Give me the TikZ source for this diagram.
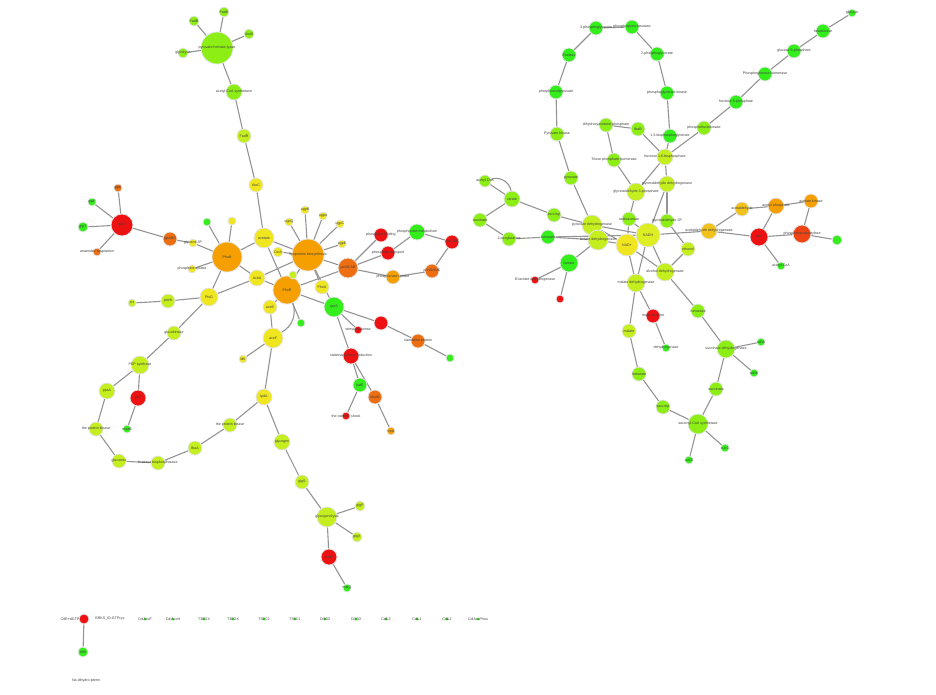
\documentclass[tikz,border=0pt]{standalone}
\usepackage{fontspec}
\setmainfont{Liberation Sans}
\pgfdeclarelayer{background}
\pgfdeclarelayer{paper}
\pgfsetlayers{paper,background,main}
\definecolor{gr}{HTML}{33EE1A}
\definecolor{lg}{HTML}{8CEE14}
\definecolor{yg}{HTML}{C4EE1E}
\definecolor{yh}{HTML}{DDEE22}
\definecolor{yl}{HTML}{F0E620}
\definecolor{ye}{HTML}{F2C21C}
\definecolor{orr}{HTML}{F5A000}
\definecolor{dor}{HTML}{EE6E12}
\definecolor{ror}{HTML}{EE4414}
\definecolor{rd}{HTML}{EE1111}
\tikzset{
  nd/.style 2 args={circle, fill=#2, draw=black!10, line width=0.8pt, minimum size=2*#1, inner sep=0pt},
  lbl/.style={font=\fontsize{3.6}{4}\selectfont, text=black!75, inner sep=0pt},
  ed/.style={draw=black!42, line width=1.1pt},
}
\newcommand\Nd[6]{\node[nd={#4pt}{#5}, label={[lbl]center:#6}] (#1) at (#2,#3) {};}
\begin{document}
\begin{tikzpicture}[x=1pt,y=-1pt]
\useasboundingbox (0,0) rectangle (936,694);
\begin{pgfonlayer}{paper}
\fill[white] (0,0) rectangle (936,694);
\end{pgfonlayer}
% ---------- left network ----------
\Nd{a1}{217}{48}{16}{lg}{pyruvate formate-lyase}
\Nd{a2}{194}{21}{5}{lg}{FadB}
\Nd{a3}{224}{12}{5}{lg}{FadE}
\Nd{a4}{249}{34}{5}{lg}{AtoB}
\Nd{a5}{183}{53}{5}{lg}{glycolysis}
\Nd{a6}{234}{92}{8}{lg}{acetyl-CoA synthetase}
\Nd{a7}{244}{136}{7}{yg}{FadR}
\Nd{a8}{256}{185}{7}{yl}{AtoC}
\Nd{a9}{264}{238}{10}{yl}{acetate}
\Nd{o1}{308}{255}{16}{orr}{lipoprotein biosynthesis}
\Nd{o2}{227}{257}{15}{orr}{PhoB}
\Nd{o3}{287}{290}{14}{orr}{PhoR}
\Nd{y1}{257}{278}{8}{yl}{AckA}
\Nd{y2}{209}{297}{9}{yl}{PtsG}
\Nd{y3}{270}{307}{7}{yl}{aceE}
\Nd{y4}{273}{338}{10}{yl}{aceF}
\Nd{y5}{278}{252}{5}{yl}{CstA}
\Nd{y6}{322}{287}{7}{yl}{PhoU}
\Nd{s1}{305}{210}{4}{yl}{ugpB}
\Nd{s2}{323}{216}{4}{yl}{ugpA}
\Nd{s3}{340}{224}{4}{yl}{ugpC}
\Nd{s4}{342}{244}{4}{yl}{ugpE}
\Nd{s5}{289}{222}{4}{yl}{ugpQ}
\Nd{s6}{293}{275}{4}{yg}{}
\Nd{s7}{301}{323}{4}{gr}{}
\Nd{g1}{334}{307}{10}{gr}{rpoS}
\Nd{o4}{348}{268}{10}{dor}{pstSCAB}
\Nd{l1}{207}{222}{4}{gr}{}
\Nd{l2}{232}{221}{4}{yl}{}
\Nd{l3}{193}{243}{4}{yl}{glycerol-3P}
\Nd{l4}{192}{269}{4}{yl}{phosphate uptake}
\Nd{o5}{170}{239}{7}{dor}{glpABC}
\Nd{r1}{122}{225}{11}{rd}{glpD}
\Nd{l5}{118}{188}{4}{dor}{glpK}
\Nd{l6}{92}{202}{4}{gr}{glpF}
\Nd{l7}{83}{227}{5}{gr}{glpT}
\Nd{l8}{97}{252}{4}{dor}{anaerobic respiration}
\Nd{r2}{381}{235}{7}{rd}{phosphate binding}
\Nd{g2}{417}{232}{8}{gr}{phosphonate metabolism}
\Nd{r3}{452}{242}{7}{rd}{phnCDE}
\Nd{r4}{388}{253}{7}{rd}{phosphate transport}
\Nd{o6}{393}{277}{7}{orr}{phosphonate uptake}
\Nd{o7}{432}{271}{7}{dor}{phnGHIJK}
\Nd{r5}{381}{323}{7}{rd}{}
\Nd{r6}{358}{330}{4}{rd}{stress response}
\Nd{r7}{351}{356}{8}{rd}{stationary phase induction}
\Nd{o8}{418}{341}{7}{dor}{starvation protein}
\Nd{l9}{450}{358}{4}{gr}{}
\Nd{g3}{360}{385}{7}{gr}{katE}
\Nd{o9}{375}{397}{7}{dor}{otsAB}
\Nd{l10}{346}{416}{4}{rd}{the osmotic shock}
\Nd{l11}{391}{431}{4}{orr}{treA}
\Nd{l12}{243}{359}{4}{yl}{ldh}
\Nd{y7}{264}{397}{8}{yl}{lpdA}
\Nd{b1}{230}{425}{7}{yg}{the protein kinase}
\Nd{b2}{282}{442}{8}{yg}{glycogen}
\Nd{b3}{302}{482}{7}{yg}{glgS}
\Nd{b4}{327}{517}{10}{yg}{glycogenolysis}
\Nd{b5}{360}{506}{5}{yg}{glgP}
\Nd{b6}{357}{537}{5}{yg}{glgX}
\Nd{b7}{329}{557}{8}{rd}{malP}
\Nd{b8}{347}{588}{4}{gr}{malQ}
\Nd{c1}{168}{301}{7}{yg}{ptsHI}
\Nd{c2}{132}{303}{4}{yg}{crr}
\Nd{c3}{174}{333}{7}{yg}{glucokinase}
\Nd{c4}{140}{365}{9}{yg}{PEP synthase}
\Nd{c5}{107}{391}{8}{yg}{ppsA}
\Nd{c6}{138}{398}{8}{rd}{pck}
\Nd{c7}{127}{429}{4}{gr}{maeB}
\Nd{c8}{96}{429}{7}{yg}{the protein kinase}
\Nd{c9}{119}{461}{7}{yg}{gluconeo}
\Nd{c10}{158}{463}{7}{yg}{fructose bisphosphatase}
\Nd{c11}{195}{448}{7}{yg}{fbaA}
% ---------- right network ----------
\Nd{p1}{596}{28}{7}{gr}{3-phosphoglycerate}
\Nd{p2}{632}{27}{7}{gr}{phosphoglyceromutase}
\Nd{p3}{569}{55}{7}{gr}{Enolase}
\Nd{p4}{657}{54}{7}{gr}{2-phosphoglycerate}
\Nd{p5}{556}{92}{7}{gr}{phosphoenolpyruvate}
\Nd{p6}{667}{93}{7}{gr}{phosphoglycerate kinase}
\Nd{p7}{557}{134}{7}{lg}{Pyruvate kinase}
\Nd{p8}{670}{136}{7}{gr}{1,3-bisphosphoglycerate}
\Nd{p9}{606}{125}{7}{lg}{dihydroxyacetone phosphate}
\Nd{p10}{638}{129}{7}{lg}{fbaB}
\Nd{p11}{614}{160}{7}{lg}{Triose phosphate isomerase}
\Nd{p12}{665}{157}{8}{yg}{fructose 1,6-bisphosphate}
\Nd{p13}{571}{178}{7}{lg}{pyruvate}
\Nd{p14}{636}{192}{9}{yg}{glyceraldehyde 3-phosphate}
\Nd{p15}{667}{184}{8}{yg}{glyceraldehyde dehydrogenase}
\Nd{q1}{704}{128}{7}{lg}{phosphofructokinase}
\Nd{q2}{736}{102}{7}{gr}{fructose 6-phosphate}
\Nd{q3}{765}{74}{7}{gr}{Phosphoglucose isomerase}
\Nd{q4}{794}{51}{7}{gr}{glucose 6-phosphate}
\Nd{q5}{823}{31}{7}{gr}{hexokinase}
\Nd{q6}{852}{13}{4}{gr}{glucose}
\Nd{k1}{485}{181}{6}{lg}{acetyl-CoA}
\Nd{k2}{512}{199}{8}{lg}{citrate}
\Nd{k3}{480}{220}{7}{lg}{isocitrate}
\Nd{k4}{509}{239}{7}{lg}{2-oxoglutarate}
\Nd{k5}{554}{215}{7}{lg}{succinyl}
\Nd{k6}{548}{237}{7}{gr}{fumarate}
\Nd{m1}{592}{225}{10}{yg}{pyruvate dehydrogenase}
\Nd{m2}{598}{240}{10}{yg}{lactate dehydrogenase}
\Nd{m3}{629}{219}{7}{lg}{oxaloacetate}
\Nd{m4}{667}{221}{7}{lg}{glyceraldehyde-3P}
\Nd{m5}{648}{235}{12}{yh}{NADH}
\Nd{m6}{627}{245}{11}{yl}{NAD+}
\Nd{m7}{569}{263}{9}{gr}{lactate}
\Nd{m8}{535}{280}{4}{rd}{D-lactate dehydrogenase}
\Nd{m9}{560}{299}{4}{rd}{}
\Nd{m10}{688}{249}{7}{yg}{ethanol}
\Nd{m11}{665}{272}{9}{yg}{alcohol dehydrogenase}
\Nd{m12}{636}{283}{9}{yg}{malate dehydrogenase}
\Nd{t1}{709}{231}{8}{ye}{acetaldehyde dehydrogenase}
\Nd{t2}{742}{209}{7}{ye}{acetaldehyde}
\Nd{t3}{776}{206}{8}{orr}{acetyl phosphate}
\Nd{t4}{811}{201}{7}{orr}{acetate kinase}
\Nd{t5}{759}{237}{9}{rd}{pta}
\Nd{t6}{802}{234}{9}{ror}{phosphotransacetylase}
\Nd{t7}{837}{240}{5}{gr}{}
\Nd{t8}{781}{266}{4}{gr}{acetyl-CoA}
\Nd{u1}{653}{316}{7}{rd}{malic enzyme}
\Nd{u2}{666}{348}{4}{gr}{dehydrogenase}
\Nd{u3}{629}{331}{7}{yg}{malate}
\Nd{u4}{698}{311}{7}{lg}{fumarase}
\Nd{u5}{726}{349}{9}{lg}{succinate dehydrogenase}
\Nd{u6}{761}{342}{4}{gr}{sdhA}
\Nd{u7}{754}{373}{4}{gr}{sdhB}
\Nd{u8}{716}{389}{7}{lg}{succinate}
\Nd{u9}{639}{374}{7}{lg}{fumarate}
\Nd{u10}{663}{407}{7}{lg}{succinyl}
\Nd{u11}{698}{424}{10}{lg}{succinyl-CoA synthetase}
\Nd{u12}{725}{448}{4}{gr}{sucC}
\Nd{u13}{689}{460}{4}{gr}{sucD}
% ---------- bottom row ----------
\Nd{z1}{84}{619}{5}{rd}{}
\Nd{z2}{83}{652}{5}{gr}{dhfr}
\node[lbl] (zl1) at (70,619) {CdR+dGTP};
\node[lbl] (zl2) at (110,619) {BRKS\_ID:GTPcyc};
\foreach \n/\x/\t in {w1/145/CdiAcoF, w2/173/CdiAcoH, w3/204/T3EOX, w4/233/T3EOX, w5/264/T3EC2, w6/295/T3EC1, w7/325/CiS6D, w8/356/CiS6D, w9/386/CdiL3, w10/417/CdiL1, w11/447/CdiL2, w12/478/CdiAcoPhos}{
  \node[nd={1.5pt}{gr}, draw=none, label={[lbl]center:\t}] (\n) at (\x,619) {};
}
\node[lbl] (zl3) at (86,681) {Na-dihydro-pterin};
% ---------- edges ----------
\begin{pgfonlayer}{background}
\foreach \a/\b in {a1/a2,a1/a3,a1/a4,a1/a5,a1/a6,a6/a7,a7/a8,a8/a9,a9/o2,a9/o1,a9/o3,
 o2/l1,o2/l2,o2/l3,o5/l3,o2/l4,o2/y1,o2/y2,o5/r1,r1/l5,r1/l6,r1/l7,r1/l8,
 y1/o1,y1/o3,y1/y2,o1/s1,o1/s2,o1/s3,o1/s4,o1/s5,o1/o4,o1/y5,o1/o3,o1/y6,o1/g1,
 o3/s6,o3/y3,o3/s7,o3/g1,o3/o4,y3/y4,y4/y7,y4/l12,
 y2/c1,c1/c2,y2/c3,c3/c4,c4/c5,c4/c6,c6/c7,c5/c8,c8/c9,c9/c10,c10/c11,c11/b1,b1/y7,y7/b2,b2/b3,b3/b4,b4/b5,b4/b6,b4/b7,b7/b8,
 o4/r2,o4/r4,o4/o6,r4/g2,g2/r3,r3/o7,o6/o7,
 g1/r5,g1/r6,g1/r7,r5/o8,o8/l9,r7/g3,r7/o9,g3/l10,o9/l11,
 p13/p7,p7/p5,p5/p3,p3/p1,p1/p2,p2/p4,p4/p6,p6/p8,p8/p12,q1/p12,q1/q2,q2/q3,q3/q4,q4/q5,q5/q6,
 p9/p10,p9/p11,p10/p12,p11/p14,p12/p14,p12/p15,p13/m1,
 k1/k2,k2/k3,k3/k4,k2/k5,k4/k6,k5/m1,k6/m2,k6/m5,
 m1/m2,m1/m5,m1/m6,m2/m6,m2/m7,m7/m8,m7/m9,p14/m3,m3/m6,p15/m5,p15/m4,m4/m10,m3/m5,
 m10/m11,m5/m11,m6/m11,m6/m12,m5/m12,m5/t1,t1/t2,t1/t5,t2/t3,t3/t5,t3/t4,t4/t6,t5/t6,t6/t7,t5/t8,
 m12/u3,m12/u1,u1/u2,u3/u9,u9/u10,u10/u11,u11/u12,u11/u13,u11/u8,u8/u5,u5/u6,u5/u7,u5/u4,u4/m11,
 z1/z2}
 {\draw[ed] (\a) -- (\b);}
\draw[ed] (o3) to[bend left=40] (y4);
\draw[ed] (k1) to[bend left=50] (k2);
\end{pgfonlayer}
\end{tikzpicture}
\end{document}
